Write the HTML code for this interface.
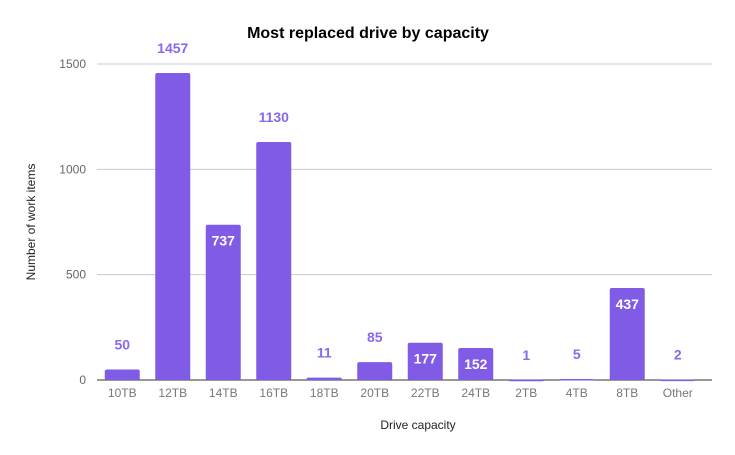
<!DOCTYPE html>
<html><head><meta charset="utf-8"><style>
body{margin:0;background:#fff;}
svg{display:block;font-family:"Liberation Sans",Arial,sans-serif;}
</style></head><body>
<svg id="chart" width="735" height="455">
<rect width="735" height="455" fill="#fff"/>
<text x="368" y="38" text-anchor="middle" font-size="16" font-weight="bold" fill="#000">Most replaced drive by capacity</text>
<text x="418" y="429" text-anchor="middle" font-size="12" fill="#222">Drive capacity</text>
<text transform="translate(35,222) rotate(-90)" text-anchor="middle" font-size="12" fill="#222">Number of work items</text>
<g id="grid"></g><g id="bars"></g>
</svg>
<script>
const categories=["10TB","12TB","14TB","16TB","18TB","20TB","22TB","24TB","2TB","4TB","8TB","Other"];
const values=[50,1457,737,1130,11,85,177,152,1,5,437,2];
const insideLabel=[false,false,true,false,false,false,true,true,false,false,true,false];
const yTicks=[0,500,1000,1500];
const NS="http://www.w3.org/2000/svg";
const x0=97,x1=712,base=380,plotTop=64,yMax=1500;
const step=(703-x0)/categories.length,bw=35;
const y=v=>base-v*(base-plotTop)/yMax;
const xc=i=>x0+step*(i+0.5);
function mk(t,a,p){const e=document.createElementNS(NS,t);for(const k in a)e.setAttribute(k,a[k]);p.appendChild(e);return e;}
const g=document.getElementById('grid'),b=document.getElementById('bars');
yTicks.forEach(t=>{
 const l=mk('line',{x1:x0,x2:x1,y1:y(t),y2:y(t),stroke:t===0?'#333':'#ccc','stroke-width':1},g);
 
 
 const tx=mk('text',{x:x0-11,y:y(t)+4,'text-anchor':'end','font-size':12,fill:'#666'},g);
 tx.textContent=t;
 
 
});
categories.forEach((c,i)=>{
 const v=values[i],h=base-y(v);
 const r=mk('rect',{x:xc(i)-bw/2,y:y(v),width:bw,height:Math.max(h,1.5),rx:2,fill:'#7f5be6'},b);
 
 
 const lb=mk('text',{x:xc(i),'text-anchor':'middle','font-size':14,'font-weight':'bold'},b);
 if(insideLabel[i]){lb.setAttribute('y',y(v)+21);lb.setAttribute('fill','#fff');}
 else{lb.setAttribute('y',y(v)-20);lb.setAttribute('fill','#8a68ee');}
 lb.textContent=v;
 
 
 const xl=mk('text',{x:xc(i),y:base+17,'text-anchor':'middle','font-size':12,fill:'#777'},b);
 xl.textContent=c;
 
 
});
</script>
</body></html>
